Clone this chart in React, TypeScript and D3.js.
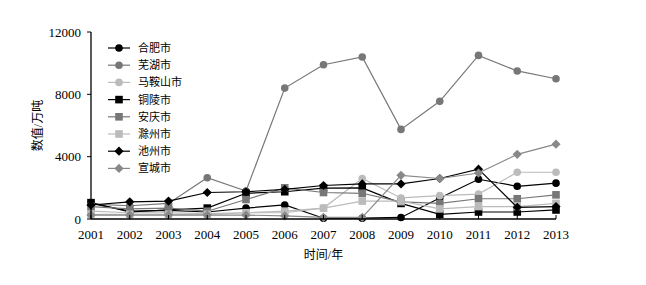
import React from "react";
import * as d3 from "d3";

const years = [2001, 2002, 2003, 2004, 2005, 2006, 2007, 2008, 2009, 2010, 2011, 2012, 2013];
const yTicks = [0, 4000, 8000, 12000];

const hefei = [1000, 500, 550, 450, 700, 900, 50, 50, 100, 1350, 2550, 2100, 2300];
const wuhu = [950, 850, 1000, 2650, 1800, 8400, 9900, 10400, 5750, 7550, 10500, 9500, 9000];
const maanshan = [500, 400, 400, 350, 400, 400, 700, 2600, 1350, 1500, 1600, 3000, 3000];
const tongling = [1050, 450, 580, 700, 1650, 1750, 1980, 2000, 1000, 300, 450, 450, 580];
const anqing = [800, 650, 700, 500, 1250, 2000, 1700, 1650, 1100, 1000, 1300, 1300, 1550];
const chuzhou = [300, 300, 300, 300, 400, 500, 700, 1150, 1150, 650, 800, 800, 1000];
const chizhou = [900, 1100, 1150, 1700, 1750, 1900, 2150, 2250, 2250, 2600, 3200, 750, 800];
const xuancheng = [250, 250, 250, 250, 250, 200, 100, 100, 2800, 2600, 2950, 4150, 4800];

const names = ["合肥市", "芜湖市", "马鞍山市", "铜陵市", "安庆市", "滁州市", "池州市", "宣城市"];
const seriesValues = [hefei, wuhu, maanshan, tongling, anqing, chuzhou, chizhou, xuancheng];
const colors = ["#000000", "#777777", "#bbbbbb", "#000000", "#777777", "#bbbbbb", "#000000", "#888888"];
const shapes = ["circle", "circle", "circle", "square", "square", "square", "diamond", "diamond"];

const W = 646, H = 285;
const left = 91, right = 556, top = 32, bottom = 219;

function Marker({ shape, x, y, color }: { shape: string; x: number; y: number; color: string }) {
  if (shape === "circle") return <circle cx={x} cy={y} r={3.8} fill={color} />;
  if (shape === "square") return <rect x={x - 3.8} y={y - 3.8} width={7.6} height={7.6} fill={color} />;
  const s = 4.6;
  return <path d={`M${x},${y - s}L${x + s},${y}L${x},${y + s}L${x - s},${y}Z`} fill={color} />;
}

export default function App() {
  const x = d3.scaleLinear().domain([2001, 2013]).range([left, right]);
  const y = d3.scaleLinear().domain([0, 12000]).range([bottom, top]);
  const line = d3.line<number>().x((_, i) => x(years[i])).y((v) => y(v));
  const font = "'Liberation Serif', 'Noto Sans CJK SC', serif";
  return (
    <svg width={W} height={H} style={{ position: "absolute", left: 0, top: 0, background: "#fff" }}>
      <rect width={W} height={H} fill="#fff" />
      {seriesValues.map((vals, si) => (
        <g key={si}>
          <path d={line(vals) || ""} fill="none" stroke={colors[si]} strokeWidth={1.2} />
          {vals.map((v, i) => (
            <Marker key={i} shape={shapes[si]} x={x(years[i])} y={y(v)} color={colors[si]} />
          ))}
        </g>
      ))}
      {/* axes */}
      <line x1={left} x2={left} y1={top} y2={bottom} stroke="#000" strokeWidth={1.3} />
      <line x1={left} x2={right} y1={bottom} y2={bottom} stroke="#000" strokeWidth={1.3} />
      {yTicks.map((t) => (
        <g key={t}>
          <line x1={left - 4} x2={left} y1={y(t)} y2={y(t)} stroke="#000" />
          <text x={left - 10} y={y(t) + 4.5} textAnchor="end" fontSize={13} fontFamily={font} fill="#000">
            {t}
          </text>
        </g>
      ))}
      {years.map((yr) => (
        <g key={yr}>
          <line x1={x(yr)} x2={x(yr)} y1={bottom} y2={bottom - 4} stroke="#000" />
          <text x={x(yr)} y={bottom + 20} textAnchor="middle" fontSize={13} fontFamily={font} fill="#000">
            {yr}
          </text>
        </g>
      ))}
      <text x={(left + right) / 2} y={259} textAnchor="middle" fontSize={12} fontFamily={font} fill="#000">
        时间/年
      </text>
      <text
        transform={`translate(42,${(top + bottom) / 2}) rotate(-90)`}
        textAnchor="middle"
        fontSize={12}
        fontFamily={font}
        fill="#000"
      >
        数值/万吨
      </text>
      {/* legend */}
      {names.map((n, i) => {
        const ly = 48 + i * 17.2;
        return (
          <g key={n}>
            <line x1={108} x2={130} y1={ly} y2={ly} stroke={colors[i]} strokeWidth={1.2} />
            <Marker shape={shapes[i]} x={119} y={ly} color={colors[i]} />
            <text x={138} y={ly + 4} fontSize={11} fontFamily={font} fill="#000">
              {n}
            </text>
          </g>
        );
      })}
    </svg>
  );
}
